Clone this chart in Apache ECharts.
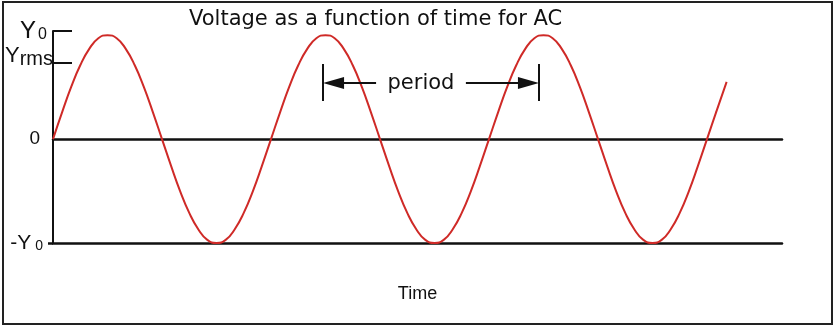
<!DOCTYPE html>
<html><head><meta charset="utf-8">
<script src="https://cdn.jsdelivr.net/npm/echarts@6/dist/echarts.min.js"></script>
<style>html,body{margin:0;padding:0;background:#fff}#c{width:838px;height:330px}</style>
</head><body><div id="c"></div>
<script>
// time in periods, voltage relative to peak Y0
const times = [
  0,0.042,0.083,0.125,0.167,0.208,0.25,0.292,0.333,0.375,0.417,0.458,
  0.5,0.542,0.583,0.625,0.667,0.708,0.75,0.792,0.833,0.875,0.917,0.958,
  1,1.042,1.083,1.125,1.167,1.208,1.25,1.292,1.333,1.375,1.417,1.458,
  1.5,1.542,1.583,1.625,1.667,1.708,1.75,1.792,1.833,1.875,1.917,1.958,
  2,2.042,2.083,2.125,2.167,2.208,2.25,2.292,2.333,2.375,2.417,2.458,
  2.5,2.542,2.583,2.625,2.667,2.708,2.75,2.792,2.833,2.875,2.917,2.958,
  3,3.042,3.09];
const volts = [
  0,0.26,0.5,0.71,0.87,0.97,1,0.97,0.87,0.71,0.5,0.26,
  0,-0.26,-0.5,-0.71,-0.87,-0.97,-1,-0.97,-0.87,-0.71,-0.5,-0.26,
  0,0.26,0.5,0.71,0.87,0.97,1,0.97,0.87,0.71,0.5,0.26,
  0,-0.26,-0.5,-0.71,-0.87,-0.97,-1,-0.97,-0.87,-0.71,-0.5,-0.26,
  0,0.26,0.5,0.71,0.87,0.97,1,0.97,0.87,0.71,0.5,0.26,
  0,-0.26,-0.5,-0.71,-0.87,-0.97,-1,-0.97,-0.87,-0.71,-0.5,-0.26,
  0,0.26,0.55];
const yTickValues = [1.04, 0.73, 0, -1];
const yTickLabels = ['{y|Y}{s|0}', '{yr|Y}{r|rms}', '{z|0}', '{ym|-Y}{sm|0}'];
const titleText = 'Voltage as a function of time for AC';
const xName = 'Time';
const periodLabel = 'period';
const periodStart = 1.239, periodEnd = 2.229;
const periodShaftL = 1.482, periodShaftR = 1.894;
const periodBarLow = 0.366, periodBarHigh = 0.722, periodArrowY = 0.539;

const chart = echarts.init(document.getElementById('c'));
const black = '#111';
const F = 'Liberation Sans';
const seriesData = times.map((t, i) => [t, volts[i]]);
const headOff = 0.048;
chart.setOption({
  animation: false,
  backgroundColor: '#fff',
  title: { text: titleText, left: 184, top: 4,
    textStyle: { fontFamily: 'DejaVu Sans', fontSize: 21, fontWeight: 'normal', color: black } },
  grid: { left: 53, right: 56, top: 31, bottom: 87 },
  xAxis: [
    { type: 'value', min: 0, max: 3.344,
      axisLine: { show: true, onZero: true, lineStyle: { color: black, width: 2.5 } },
      axisTick: { show: false }, axisLabel: { show: false }, splitLine: { show: false } },
    { type: 'value', min: 0, max: 3.344, position: 'bottom',
      axisLine: { show: true, onZero: false, lineStyle: { color: black, width: 2.5 } },
      axisTick: { show: false }, axisLabel: { show: false }, splitLine: { show: false },
      name: xName, nameLocation: 'middle', nameGap: 42,
      nameTextStyle: { fontFamily: F, fontSize: 18, color: black } }
  ],
  yAxis: [
    { type: 'value', min: -1, max: 1.04,
      axisLine: { show: true, lineStyle: { color: black, width: 2 } },
      axisTick: { show: true, inside: true, length: 19, customValues: [1.04, 0.73],
        lineStyle: { color: black, width: 2 } },
      axisLabel: { show: true, customValues: yTickValues, margin: 0,
        formatter: v => { const i = yTickValues.indexOf(v); return i >= 0 ? yTickLabels[i] : ''; },
        rich: {
          y: { fontFamily: F, fontSize: 24, color: black },
          s: { fontFamily: F, fontSize: 16, color: black, verticalAlign: 'bottom', padding: [0, 6, 0, 2] },
          yr: { fontFamily: F, fontSize: 22, color: black, verticalAlign: 'top', padding: [0, 0, 14, 0] },
          r: { fontFamily: F, fontSize: 20, color: black, verticalAlign: 'bottom', padding: [0, 0, 12, 0] },
          z: { fontFamily: F, fontSize: 19, color: black, padding: [0, 13, 0, 0] },
          ym: { fontFamily: F, fontSize: 21, color: black },
          sm: { fontFamily: F, fontSize: 14, color: black, verticalAlign: 'bottom', padding: [0, 10, 0, 4] }
        } },
      splitLine: { show: false } },
    { type: 'value', min: -1, max: 1.04, position: 'left',
      axisLine: { show: false },
      axisTick: { show: true, length: 5, customValues: [-1], lineStyle: { color: black, width: 2.5 } },
      axisLabel: { show: false }, splitLine: { show: false } }
  ],
  series: [{
    type: 'line', xAxisIndex: 0, yAxisIndex: 0, data: seriesData, smooth: true, showSymbol: false,
    lineStyle: { color: '#cf2a27', width: 2 },
    markLine: {
      silent: true, animation: false,
      lineStyle: { color: black, width: 2, type: 'solid' },
      label: { show: false },
      symbol: 'none',
      data: [
        [{ coord: [periodStart, periodBarLow] }, { coord: [periodStart, periodBarHigh] }],
        [{ coord: [periodEnd, periodBarLow] }, { coord: [periodEnd, periodBarHigh] }],
        [{ coord: [periodStart + headOff, periodArrowY], symbol: 'triangle', symbolSize: [12, 21] },
         { coord: [periodShaftL, periodArrowY], symbol: 'none' }],
        [{ coord: [periodShaftR, periodArrowY], symbol: 'none' },
         { coord: [periodEnd - headOff, periodArrowY], symbol: 'triangle', symbolSize: [12, 21] }]
      ]
    },
    markPoint: {
      silent: true, symbol: 'rect', symbolSize: 0,
      label: { show: true, position: 'inside', formatter: periodLabel,
        fontFamily: 'DejaVu Sans', fontSize: 21, color: black },
      data: [{ coord: [(periodShaftL + periodShaftR) / 2, periodArrowY] }]
    }
  }],
  graphic: [{ type: 'rect', shape: { x: 3, y: 2, width: 829, height: 322 },
    style: { fill: 'none', stroke: '#222', lineWidth: 2 }, silent: true }]
});
</script></body></html>
